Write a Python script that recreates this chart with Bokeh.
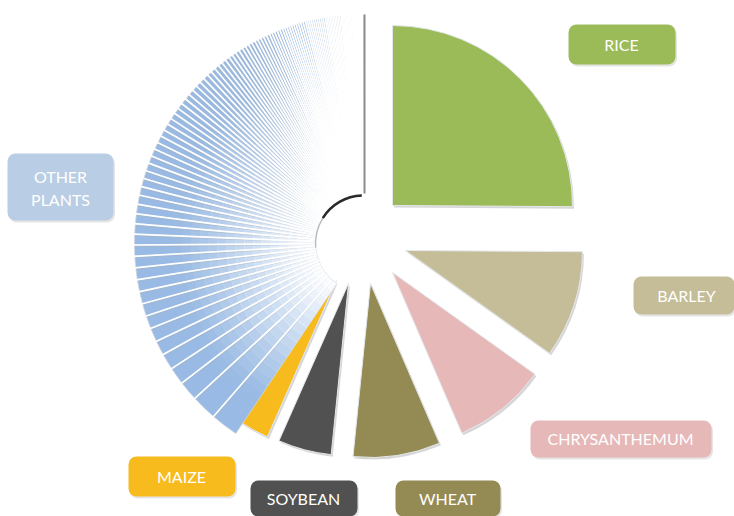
import numpy as np
from bokeh.plotting import figure
from bokeh.models import Range1d, BoxAnnotation, ColumnDataSource
from bokeh.embed import file_html
from bokeh.resources import INLINE
from bokeh.core.properties import value

# ---------------- data ----------------
categories = ["RICE", "BARLEY", "CHRYSANTHEMUM", "WHEAT", "SOYBEAN", "MAIZE"]
shares = [90.0, 35.0, 31.0, 29.0, 18.0, 10.0]
other_label = ["OTHER", "PLANTS"]
other_shares = [7.0, 6.5, 5.0, 4.4, 4.1, 3.7, 3.5, 3.3, 3.2, 3.1, 3.0, 3.0, 2.9, 2.8,
                2.7, 2.6, 2.5, 2.4, 2.3, 2.2, 2.1, 2.0, 2.0, 1.9, 1.9, 1.8, 1.8,
                1.7, 1.7, 1.6, 1.6, 1.5, 1.5, 1.5, 1.4, 1.4, 1.4, 1.3, 1.3, 1.3,
                1.2, 1.2, 1.2, 1.1, 1.1, 1.1, 1.0, 1.0, 1.0, 1.0, 0.9, 0.9, 0.9,
                0.9, 0.8, 0.8, 0.8, 0.8, 0.8, 0.7, 0.7, 0.7, 0.7, 0.7,
                0.6, 0.6, 0.6, 0.6, 0.6, 0.6, 0.6, 0.6, 0.6, 0.6,
                0.5, 0.5, 0.5, 0.5, 0.5, 0.5, 0.5, 0.5, 0.5, 0.5,
                0.4, 0.4, 0.4, 0.4, 0.4, 0.4, 0.4, 0.4, 0.4, 0.4,
                0.3, 0.3, 0.3, 0.3, 0.3, 0.3, 0.3, 0.3, 0.3, 0.3,
                0.2, 0.2, 0.2, 0.2, 0.2, 0.2, 0.2, 0.2, 0.2, 0.2, 0.2, 0.2, 0.2]

# ---------------- style / layout ----------------
W, H = 734, 516
CX, CY = 363.0, H - 243.0
slice_colors = ["#9bbb59", "#c4bd97", "#e6b9b8", "#948a54", "#505150", "#f8bb1d"]
other_color = "#b9cde5"
explode = [(29, 38), (42, -7), (29, -29), (7, -40), (-15, -40), (-27, -37)]
radii = [180, 177, 175, 174, 172, 171]
other_r_in, other_r_out = 48.0, 229.0
base_blue = np.array([152, 186, 228])

label_boxes = [(568, 675, 24, 64), (633, 734, 276, 314), (530, 711, 420, 457),
               (395, 500, 480, 516), (250, 357, 480, 516), (128, 235, 456, 496)]
other_box = (7, 113, 153, 220)
label_pos = [(621, 44), (686, 295), (620, 438), (447, 498), (303, 498), (181, 476)]
other_pos = [(60, 176), (60, 199)]

total = sum(shares) + sum(other_shares)
deg = 360.0 / total

p = figure(width=W, height=H, x_range=Range1d(0, W), y_range=Range1d(0, H),
           output_backend="svg", toolbar_location=None, min_border=0)
p.axis.visible = False
p.grid.visible = False
p.outline_line_color = None
p.background_fill_color = "white"
p.border_fill_color = "white"

# ---- main slices ----
ang = 90.0
sx, sy, sr, s0, s1 = [], [], [], [], []
for v, (dx, dy), r in zip(shares, explode, radii):
    a_start = ang - v * deg
    sx.append(CX + dx)
    sy.append(CY + dy)
    sr.append(r)
    s0.append(np.radians(a_start))
    s1.append(np.radians(ang))
    ang = a_start
other_start = ang

src = ColumnDataSource(dict(x=sx, y=sy, r=sr, a0=s0, a1=s1, c=slice_colors,
                            xs=[x + 1.5 for x in sx], ys=[y - 2.0 for y in sy]))
p.wedge(x="xs", y="ys", radius="r", start_angle="a0", end_angle="a1", source=src,
        fill_color="#8a8a8a", fill_alpha=0.35, line_color=None)
p.wedge(x="x", y="y", radius="r", start_angle="a0", end_angle="a1", source=src,
        fill_color="c", line_color="#e4e8ec", line_width=1)

# ---- other plants stripes ----
ox0, ox1, oc, bnd, bw = [], [], [], [], []
a = other_start
span = other_start - 90.0
for v in other_shares:
    a_end = a - v * deg
    mid = (a + a_end) / 2
    t = (other_start - mid) / span
    w = min(max((t - 0.12) / 0.55, 0.0), 1.0) ** 1.5
    col = base_blue * (1 - w) + np.array([255, 255, 255]) * w
    oc.append("#%02x%02x%02x" % tuple(int(round(c)) for c in col))
    ox0.append(np.radians(a_end))
    ox1.append(np.radians(a))
    bnd.append(a)
    bw.append(w)
    a = a_end

osrc = ColumnDataSource(dict(a0=ox0, a1=ox1, c=oc,
                             lc=["#d2d7de" if w < 0.9 else "#f6f6f6" for w in bw]))
p.annular_wedge(x=CX, y=CY, inner_radius=other_r_in, outer_radius=other_r_out,
                start_angle="a0", end_angle="a1", source=osrc,
                fill_color="c", line_color="lc", line_width=0.8)

# radial fade toward the centre
n_r = 16
r_fade = 190.0
edges = np.linspace(other_r_in, r_fade, n_r + 1)
for i in range(n_r):
    rm = (edges[i] + edges[i + 1]) / 2
    al = 0.97 * (1 - (rm - other_r_in) / (r_fade - other_r_in)) ** 1.1
    p.annular_wedge(x=CX, y=CY, inner_radius=edges[i], outer_radius=edges[i + 1] + 0.5,
                    start_angle=np.radians(90), end_angle=np.radians(other_start),
                    fill_color="white", fill_alpha=al, line_color=None)

# separators: grey shadow + white gap
bb = np.array(bnd[1:])
sh_alpha = [0.6 * (1 - w) for w in bw[1:]]
b = np.radians(bb)
bs = np.radians(bb + 0.5)
sep = ColumnDataSource(dict(
    sx0=CX + other_r_in * np.cos(bs), sy0=CY + other_r_in * np.sin(bs),
    sx1=CX + other_r_out * np.cos(bs), sy1=CY + other_r_out * np.sin(bs),
    wx0=CX + other_r_in * np.cos(b), wy0=CY + other_r_in * np.sin(b),
    wx1=CX + (other_r_out + 1) * np.cos(b), wy1=CY + (other_r_out + 1) * np.sin(b),
    al=sh_alpha))
p.segment(x0="sx0", y0="sy0", x1="sx1", y1="sy1", source=sep,
          line_color="#aeb4bc", line_width=0.9, line_alpha="al")
p.segment(x0="wx0", y0="wy0", x1="wx1", y1="wy1", source=sep,
          line_color="white", line_width=1.7)

# 3D edge shading of the "other" block
p.segment(x0=CX + 1, y0=CY + other_r_in + 2, x1=CX + 1, y1=CY + other_r_out,
          line_color="#8c8c8c", line_width=2)
p.arc(x=CX, y=CY, radius=other_r_in, start_angle=np.radians(92), end_angle=np.radians(148),
      line_color="#2a2a2a", line_width=2.5)
p.arc(x=CX, y=CY, radius=other_r_in, start_angle=np.radians(148), end_angle=np.radians(185),
      line_color="#888888", line_width=1.5, line_alpha=0.5)

# ---- labels ----
for (l, r, t, bt), col in zip(label_boxes + [other_box], slice_colors + [other_color]):
    p.add_layout(BoxAnnotation(left=l + 1.5, right=r + 1.5, top=H - t - 2, bottom=H - bt - 2,
                               fill_color="#999999", fill_alpha=0.25, line_color=None,
                               border_radius=8, level="underlay"))
    p.add_layout(BoxAnnotation(left=l, right=r, top=H - t, bottom=H - bt,
                               fill_color=col, fill_alpha=1.0, line_color=None,
                               border_radius=8, level="underlay"))

tx = [q[0] for q in label_pos] + [q[0] for q in other_pos]
ty = [H - q[1] for q in label_pos] + [H - q[1] for q in other_pos]
tt = categories + other_label
p.text(x=tx, y=ty, text=tt, text_color="white", text_font=value("Lato"),
       text_font_size="16px", text_align="center", text_baseline="middle")

open("out.html", "w").write(file_html(p, INLINE))
